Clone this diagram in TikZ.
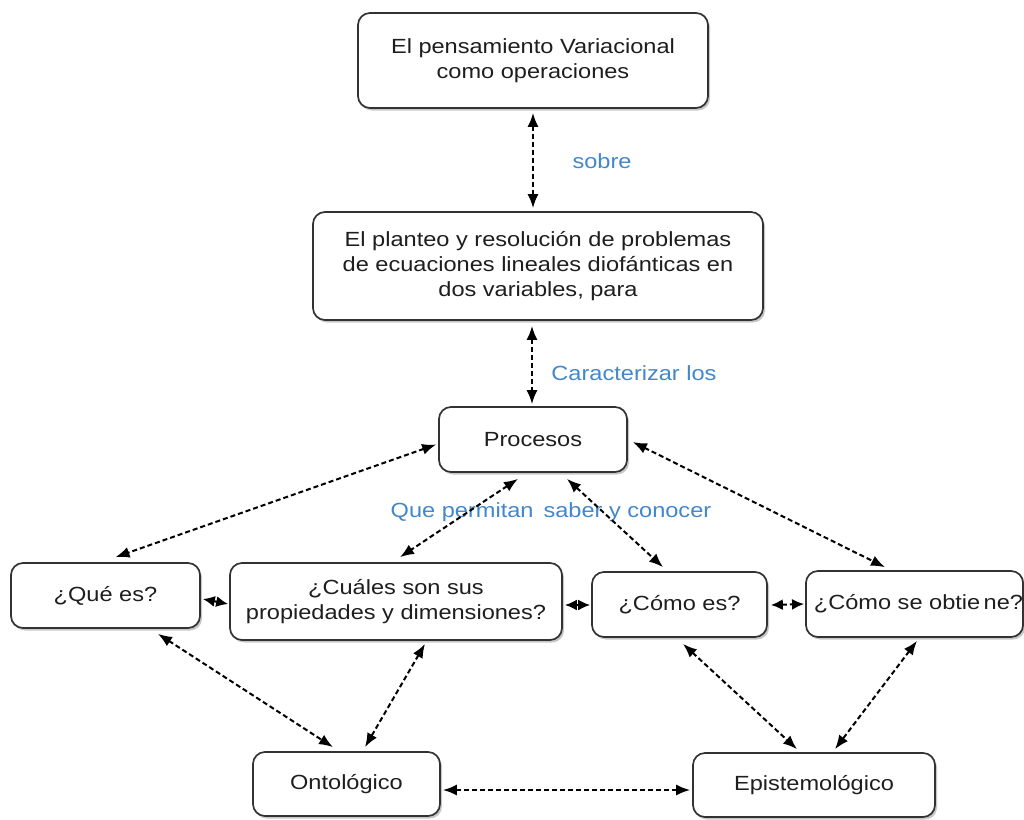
\documentclass[tikz,border=0pt]{standalone}
\usepackage{fontspec}
\setmainfont{Liberation Sans}[FakeStretch=1.15]
\usetikzlibrary{arrows.meta,shadows}
\definecolor{boxline}{RGB}{50,50,50}
\definecolor{boxtext}{RGB}{30,30,30}
\definecolor{linkblue}{RGB}{66,134,204}
\begin{document}
\begin{tikzpicture}[x=1pt,y=-1pt,
  box/.style={draw=boxline, line width=1.7pt, rounded corners=12pt, fill=white,
    text=boxtext, align=center, inner sep=0pt,
    font=\fontsize{20.5}{25}\selectfont,
    drop shadow={shadow xshift=2pt, shadow yshift=-2.5pt, fill=black, opacity=0.22}},
  link/.style={line width=2pt, dash pattern=on 5pt off 3pt, draw=black,
    {Latex[length=14pt,width=11pt]}-{Latex[length=14pt,width=11pt]}},
  shortlink/.style={line width=2pt, dash pattern=on 5pt off 3pt, draw=black,
    {Latex[length=12pt,width=11pt]}-{Latex[length=12pt,width=11pt]}},
  lbl/.style={text=linkblue, font=\fontsize{20.5}{25}\selectfont, inner sep=0pt}]
\useasboundingbox (0,0) rectangle (1024,819);

% boxes
\node[box, minimum width=350pt, minimum height=95pt] (top) at (533,60.5)
  {El pensamiento Variacional\\como operaciones};
\node[box, minimum width=450pt, minimum height=108pt] (plan) at (538,266)
  {El planteo y resolución de problemas\\de ecuaciones lineales diofánticas en\\dos variables, para};
\node[box, minimum width=188pt, minimum height=65pt] (proc) at (533,439.5) {Procesos};
\node[box, minimum width=189pt, minimum height=65pt] (que) at (105.5,595.5) {¿Qué es?};
\node[box, minimum width=332pt, minimum height=77pt] (cual) at (396,601.5)
  {¿Cuáles son sus\\propiedades y dimensiones?};
\node[box, minimum width=175pt, minimum height=65pt] (como) at (679.5,604.5) {¿Cómo es?};
\node[box, minimum width=217pt, minimum height=66pt] (obt) at (914.5,604)
  {\hspace*{8pt}¿Cómo se obtie\,ne?};
\node[box, minimum width=187pt, minimum height=64pt] (onto) at (346.5,784) {Ontológico};
\node[box, minimum width=242pt, minimum height=64pt] (epis) at (814,785) {Epistemológico};

% link labels
\node[lbl] (lsobre) at (602,161) {sobre};
\node[lbl] (lcarac) at (634,373) {Caracterizar los};
\node[lbl] (lque) at (551,512) {Que permitan\, saber y conocer};

% connectors
\draw[link] ([yshift=-4pt]top.south) -- ([xshift=-5pt,yshift=3pt]plan.north);
\draw[link] ([xshift=-6pt,yshift=-5pt]plan.south) -- ([xshift=-1pt,yshift=2pt]proc.north);
\draw[link] ([xshift=-2pt,yshift=-5pt]proc.west) -- ([xshift=10pt,yshift=5pt]que.north);
\draw[link] ([xshift=-15pt,yshift=-6pt]proc.south) -- ([xshift=4pt,yshift=5pt]cual.north);
\draw[link] ([xshift=34pt,yshift=-6pt]proc.south) -- ([xshift=-16.5pt,yshift=4pt]como.north);
\draw[link] ([xshift=5pt,yshift=-2.5pt]proc.east) -- ([xshift=-29.5pt,yshift=3pt]obt.north);
\draw[shortlink] ([xshift=2pt,yshift=-3.5pt]que.east) -- ([xshift=-1pt,yshift=-2.5pt]cual.west);
\draw[shortlink] ([xshift=2pt,yshift=-3.5pt]cual.east) -- ([xshift=-1pt,yshift=-0.5pt]como.west);
\draw[shortlink] ([xshift=3pt,yshift=-0.5pt]como.east) -- ([xshift=-1pt,yshift=0pt]obt.west);
\draw[link] ([xshift=52.5pt,yshift=-5pt]que.south) -- ([xshift=-13.5pt,yshift=4pt]onto.north);
\draw[link] ([xshift=29pt,yshift=-3pt]cual.south) -- ([xshift=18.5pt,yshift=4pt]onto.north);
\draw[link] ([xshift=3.5pt,yshift=-6pt]como.south) -- ([xshift=-17pt,yshift=3pt]epis.north);
\draw[link] ([xshift=2.5pt,yshift=-3pt]obt.south) -- ([xshift=21pt,yshift=3pt]epis.north);
\draw[link] ([xshift=2pt,yshift=-6pt]onto.east) -- ([xshift=-2pt,yshift=-5pt]epis.west);
\end{tikzpicture}
\end{document}
